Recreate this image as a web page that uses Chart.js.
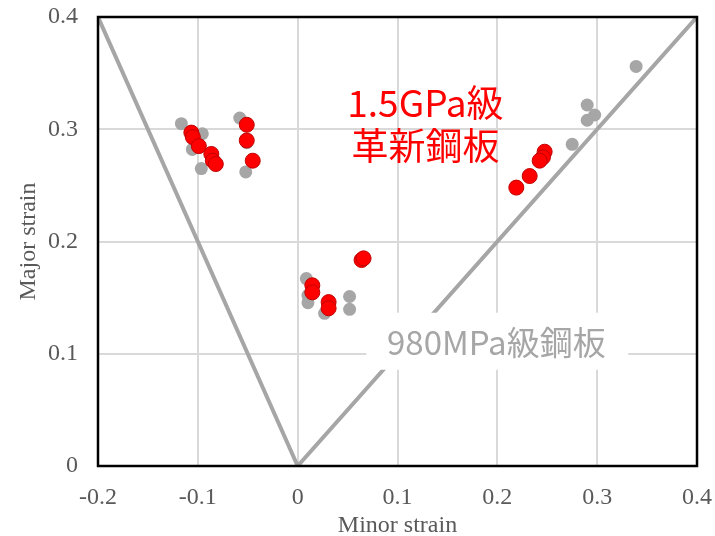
<!DOCTYPE html>
<html>
<head>
<meta charset="utf-8">
<script src="https://cdn.jsdelivr.net/npm/chart.js@4.4.0/dist/chart.umd.min.js"></script>
<style>
  html, body { margin: 0; padding: 0; background: #fff; }
</style>
</head>
<body>
<canvas id="flc" width="715" height="536"></canvas>
<script>
// ---- data ----
const xTickLabels = ["-0.2", "-0.1", "0", "0.1", "0.2", "0.3", "0.4"];
const yTickLabels = ["0", "0.1", "0.2", "0.3", "0.4"];

// 980MPa grade (gray)
const grayMinor = [-0.1165, -0.0955, -0.1055, -0.0965, -0.058, -0.051, -0.052,
                   0.0087, 0.0103, 0.0103, 0.027, 0.052, 0.052,
                   0.339, 0.290, 0.290, 0.2975, 0.275];
const grayMajor = [0.305, 0.296, 0.282, 0.265, 0.310, 0.288, 0.262,
                   0.167, 0.152, 0.1455, 0.136, 0.151, 0.1396,
                   0.356, 0.3216, 0.308, 0.3127, 0.2866];

// 1.5GPa grade (red)
const redMinor = [-0.1065, -0.105, -0.099, -0.0865, -0.085, -0.082, -0.051, -0.051, -0.045,
                  0.0147, 0.0147, 0.031, 0.031, 0.064, 0.066,
                  0.2474, 0.2457, 0.2424, 0.2324, 0.219];
const redMajor = [0.297, 0.293, 0.285, 0.278, 0.272, 0.269, 0.304, 0.290, 0.272,
                  0.161, 0.1547, 0.146, 0.1405, 0.1835, 0.185,
                  0.280, 0.275, 0.272, 0.2583, 0.248];

// V-shaped reference line
const vMinor = [-0.2, 0, 0.4];
const vMajor = [0.4, 0, 0.4];

const toPoints = (xs, ys) => xs.map((x, i) => ({ x: x, y: ys[i] }));

const serif = "'Liberation Serif', 'DejaVu Serif', serif";
const jpSans = "'Noto Sans CJK JP', 'Noto Sans', sans-serif";

// frame + text labels
const extras = {
  id: "extras",
  afterDatasetsDraw(chart) {
    const { ctx, chartArea: a, scales } = chart;
    ctx.save();
    // black frame on all four sides
    ctx.strokeStyle = "#000";
    ctx.lineWidth = 2.5;
    ctx.strokeRect(a.left, a.top, a.right - a.left, a.bottom - a.top);

    // 980MPa label with white box
    const gx = scales.x.getPixelForValue(0.2);
    const gy = scales.y.getPixelForValue(0.1);
    ctx.fillStyle = "#fff";
    ctx.fillRect(gx - 131, gy - 41, 262, 57);
    ctx.font = "33px " + jpSans;
    ctx.fillStyle = "#a6a6a6";
    ctx.textAlign = "center";
    ctx.textBaseline = "middle";
    ctx.fillText("980MPa級鋼板", gx - 1, gy - 11);

    // 1.5GPa label
    const rx = scales.x.getPixelForValue(0.128);
    ctx.font = "37px " + jpSans;
    ctx.fillStyle = "#ff0000";
    ctx.fillText("1.5GPa級", rx, scales.y.getPixelForValue(0.323));
    ctx.fillText("革新鋼板", rx, scales.y.getPixelForValue(0.285));
    ctx.restore();
  }
};

new Chart(document.getElementById("flc"), {
  type: "scatter",
  data: {
    datasets: [
      {
        label: "1.5GPa",
        data: toPoints(redMinor, redMajor),
        backgroundColor: "#ff0000",
        borderColor: "#c00000",
        borderWidth: 1,
        pointRadius: 7.5,
        order: 0
      },
      {
        label: "980MPa",
        data: toPoints(grayMinor, grayMajor),
        backgroundColor: "#a6a6a6",
        borderWidth: 0,
        pointRadius: 6.5,
        order: 1
      },
      {
        label: "V",
        type: "line",
        data: toPoints(vMinor, vMajor),
        borderColor: "#a6a6a6",
        borderWidth: 4,
        pointRadius: 0,
        fill: false,
        order: 2
      }
    ]
  },
  options: {
    responsive: false,
    animation: false,
    layout: { padding: { top: 17, right: 18, left: 0, bottom: 0 } },
    plugins: {
      legend: { display: false },
      tooltip: { enabled: false }
    },
    scales: {
      x: {
        type: "linear",
        min: -0.2,
        max: 0.4,
        afterBuildTicks: (s) => { s.ticks = xTickLabels.map(t => ({ value: parseFloat(t) })); },
        afterFit: (s) => { s.height = 70; s.paddingLeft = 0; s.paddingRight = 0; },
        grid: { color: "#d9d9d9", lineWidth: 2, drawTicks: false },
        border: { display: false },
        ticks: {
          padding: 17,
          color: "#595959",
          font: { family: serif, size: 24 },
          callback: (v, i) => xTickLabels[i]
        },
        title: {
          display: true,
          text: "Minor strain",
          color: "#595959",
          font: { family: serif, size: 24 },
          padding: { top: 0, bottom: -4 }
        }
      },
      y: {
        type: "linear",
        min: 0,
        max: 0.4,
        afterBuildTicks: (s) => { s.ticks = yTickLabels.map(t => ({ value: parseFloat(t) })); },
        afterFit: (s) => { s.width = 98; s.paddingTop = 0; s.paddingBottom = 0; },
        grid: { color: "#d9d9d9", lineWidth: 2, drawTicks: false },
        border: { display: false },
        ticks: {
          padding: 20,
          color: "#595959",
          font: { family: serif, size: 24 },
          callback: (v, i) => yTickLabels[i]
        },
        title: {
          display: true,
          text: "Major strain",
          color: "#595959",
          font: { family: serif, size: 24 },
          padding: { top: 14, bottom: 0 }
        }
      }
    }
  },
  plugins: [extras]
});
</script>
</body>
</html>
